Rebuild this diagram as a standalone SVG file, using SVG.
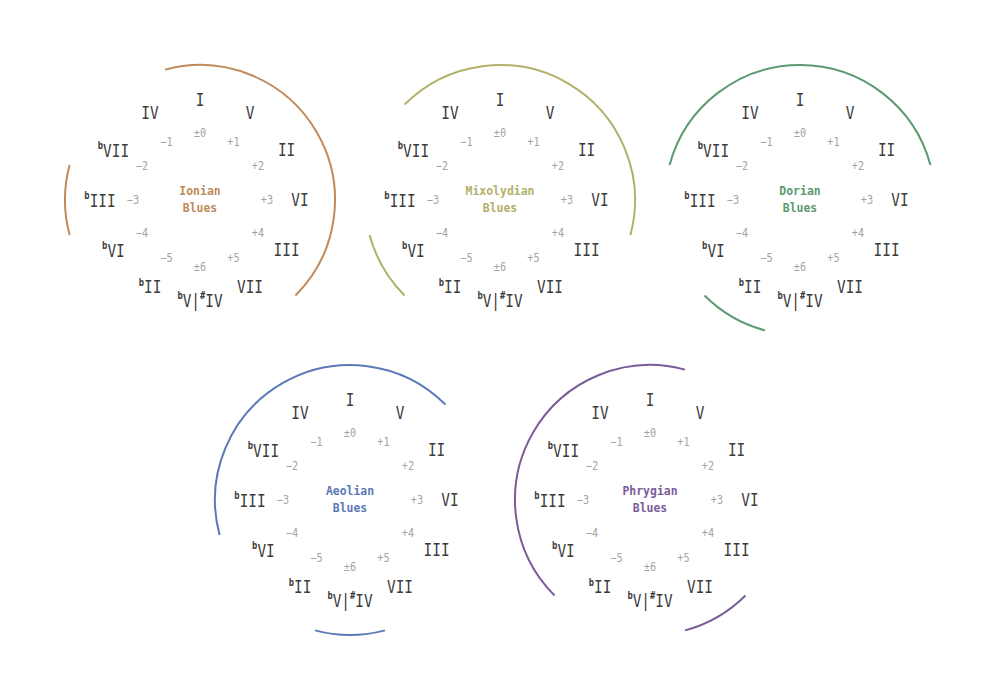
<svg xmlns="http://www.w3.org/2000/svg" width="1000" height="700" viewBox="0 0 1000 700">
<style>
.bg{fill:#fff}
.n{font-family:"DejaVu Sans Mono","Liberation Mono",monospace;font-size:18px;fill:#3c3c3c;text-anchor:middle;dominant-baseline:central}
.s{font-size:11px;font-weight:bold}
.d{font-family:"DejaVu Sans Mono","Liberation Mono",monospace;font-size:12px;fill:#a3a3a3;text-anchor:middle;dominant-baseline:central}
.t{font-family:"DejaVu Sans Mono","Liberation Mono",monospace;font-size:13px;font-weight:bold;text-anchor:middle;dominant-baseline:central}
.arc{fill:none;stroke-width:2;stroke-linecap:butt}
.f1{fill:#c08a5a}.f2{fill:#b2b06a}.f3{fill:#5c9a70}.f4{fill:#5b78b8}.f5{fill:#7b5c9a}
.a1{stroke:#c08a5a}.a2{stroke:#b2b06a}.a3{stroke:#5c9a70}.a4{stroke:#5b78b8}.a5{stroke:#7b5c9a}
</style>
<rect class="bg" x="0" y="0" width="1000" height="700"/>
<defs>
<g id="wheel">
<text class="n" transform="translate(0 -100) scale(.8 1)">I</text>
<text class="n" transform="translate(50 -86.6) scale(.8 1)">V</text>
<text class="n" transform="translate(86.6 -50) scale(.8 1)">II</text>
<text class="n" transform="translate(100 0) scale(.8 1)">VI</text>
<text class="n" transform="translate(86.6 50) scale(.8 1)">III</text>
<text class="n" transform="translate(50 86.6) scale(.8 1)">VII</text>
<text class="n" transform="translate(0 100) scale(.8 1)"><tspan class="s" dy="-5">b</tspan><tspan dy="5">V|</tspan><tspan class="s" dy="-5">#</tspan><tspan dy="5">IV</tspan></text>
<text class="n" transform="translate(-50 86.6) scale(.8 1)"><tspan class="s" dy="-5">b</tspan><tspan dy="5">II</tspan></text>
<text class="n" transform="translate(-86.6 50) scale(.8 1)"><tspan class="s" dy="-5">b</tspan><tspan dy="5">VI</tspan></text>
<text class="n" transform="translate(-100 0) scale(.8 1)"><tspan class="s" dy="-5">b</tspan><tspan dy="5">III</tspan></text>
<text class="n" transform="translate(-86.6 -50) scale(.8 1)"><tspan class="s" dy="-5">b</tspan><tspan dy="5">VII</tspan></text>
<text class="n" transform="translate(-50 -86.6) scale(.8 1)">IV</text>
<text class="d" transform="translate(0 -67) scale(.85 1)">±0</text>
<text class="d" transform="translate(33.5 -58) scale(.85 1)">+1</text>
<text class="d" transform="translate(58 -33.5) scale(.85 1)">+2</text>
<text class="d" transform="translate(67 0) scale(.85 1)">+3</text>
<text class="d" transform="translate(58 33.5) scale(.85 1)">+4</text>
<text class="d" transform="translate(33.5 58) scale(.85 1)">+5</text>
<text class="d" transform="translate(0 67) scale(.85 1)">±6</text>
<text class="d" transform="translate(-33.5 58) scale(.85 1)">−5</text>
<text class="d" transform="translate(-58 33.5) scale(.85 1)">−4</text>
<text class="d" transform="translate(-67 0) scale(.85 1)">−3</text>
<text class="d" transform="translate(-58 -33.5) scale(.85 1)">−2</text>
<text class="d" transform="translate(-33.5 -58) scale(.85 1)">−1</text>
</g>
</defs>
<g id="ionian">
<use href="#wheel" x="200" y="200"/>
<text class="t f1" transform="translate(200 191) scale(.88 1)">Ionian</text>
<text class="t f1" transform="translate(200 208) scale(.88 1)">Blues</text>
</g>
<g id="mixolydian">
<use href="#wheel" x="500" y="200"/>
<text class="t f2" transform="translate(500 191) scale(.88 1)">Mixolydian</text>
<text class="t f2" transform="translate(500 208) scale(.88 1)">Blues</text>
</g>
<g id="dorian">
<use href="#wheel" x="800" y="200"/>
<text class="t f3" transform="translate(800 191) scale(.88 1)">Dorian</text>
<text class="t f3" transform="translate(800 208) scale(.88 1)">Blues</text>
</g>
<g id="aeolian">
<use href="#wheel" x="350" y="500"/>
<text class="t f4" transform="translate(350 491) scale(.88 1)">Aeolian</text>
<text class="t f4" transform="translate(350 508) scale(.88 1)">Blues</text>
</g>
<g id="phrygian">
<use href="#wheel" x="650" y="500"/>
<text class="t f5" transform="translate(650 491) scale(.88 1)">Phrygian</text>
<text class="t f5" transform="translate(650 508) scale(.88 1)">Blues</text>
</g>
<g id="connectors">
<path class="arc a1" d="M165.06 69.60 A135 135 0 0 1 295.46 295.46"/>
<path class="arc a1" d="M69.60 234.94 A135 135 0 0 1 69.60 165.06"/>
<path class="arc a2" d="M404.54 104.54 A135 135 0 0 1 630.40 234.94"/>
<path class="arc a2" d="M404.54 295.46 A135 135 0 0 1 369.60 234.94"/>
<path class="arc a3" d="M669.60 165.06 A135 135 0 0 1 930.40 165.06"/>
<path class="arc a3" d="M765.06 330.40 A135 135 0 0 1 704.54 295.46"/>
<path class="arc a4" d="M219.60 534.94 A135 135 0 0 1 445.46 404.54"/>
<path class="arc a4" d="M384.94 630.40 A135 135 0 0 1 315.06 630.40"/>
<path class="arc a5" d="M554.54 595.46 A135 135 0 0 1 684.94 369.60"/>
<path class="arc a5" d="M745.46 595.46 A135 135 0 0 1 684.94 630.40"/>
</g>
</svg>
